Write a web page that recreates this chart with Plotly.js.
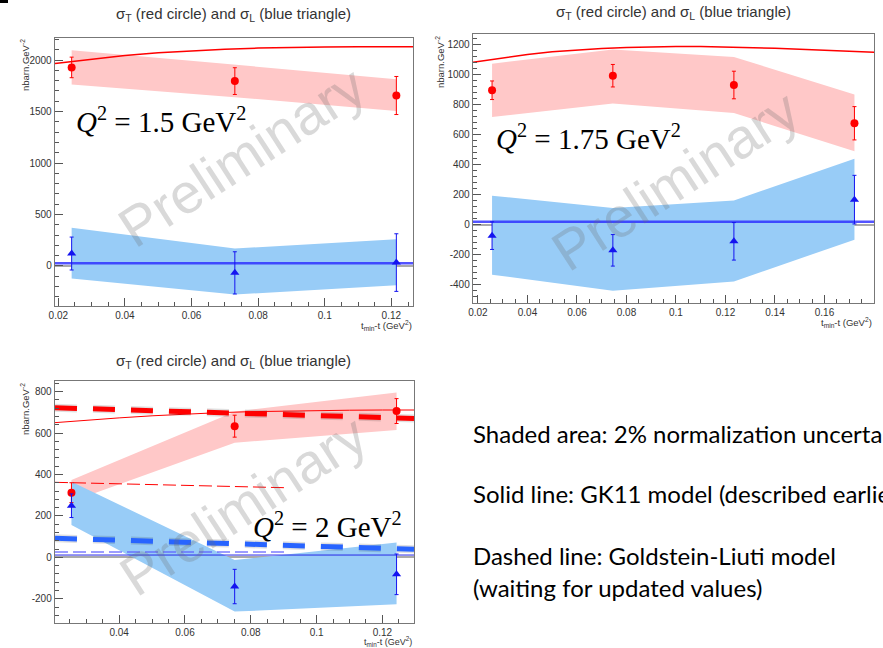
<!DOCTYPE html>
<html>
<head>
<meta charset="utf-8">
<script src="https://cdn.plot.ly/plotly-3.0.1.min.js"></script>
<style>html,body{margin:0;padding:0;background:#fff;overflow:hidden}#chart{width:883px;height:648px}</style>
</head>
<body>
<div id="chart"></div>
<script>
// ---------- Panel 1 : Q2 = 1.5 GeV2 ----------
const t15 = [0.024, 0.073, 0.1215];
const sigT15 = [1929, 1796, 1656];
const sigT15Err = [100, 130, 185];
const sigL15 = [120, -68, 32];
const sigL15Err = [160, 205, 280];
const bandT15Hi = [2097, 1953, 1815];
const bandT15Lo = [1763, 1640, 1506];
const bandL15Hi = [370, 169, 260];
const bandL15Lo = [-123, -279, -188];
const gk15x = [0.019, 0.03, 0.04, 0.05, 0.06, 0.07, 0.08, 0.09, 0.1, 0.11, 0.12, 0.1265];
const gkT15 = [1968, 2010, 2045, 2072, 2092, 2106, 2117, 2124, 2128, 2130, 2131, 2131];
const gkL15 = [25, 25, 25, 25, 25, 25, 25, 25, 25, 25, 25, 25];
const y15Ticks = [0, 500, 1000, 1500, 2000];
const y15Text = ["0", "500", "1000", "1500", "2000"];

// ---------- Panel 2 : Q2 = 1.75 GeV2 ----------
const t175 = [0.0257, 0.0745, 0.1234, 0.1721];
const sigT175 = [896, 993, 931, 676];
const sigT175Err = [62, 75, 92, 111];
const sigL175 = [-73, -171, -111, 167];
const sigL175Err = [92, 105, 125, 162];
const bandT175Hi = [1073, 1167, 1118, 867];
const bandT175Lo = [718, 807, 744, 489];
const bandL175Hi = [193, 111, 162, 440];
const bandL175Lo = [-333, -440, -378, -100];
const gk175x = [0.018, 0.03, 0.04, 0.05, 0.06, 0.07, 0.08, 0.09, 0.1, 0.11, 0.12, 0.13, 0.14, 0.15, 0.16, 0.17, 0.18];
const gkT175 = [1082, 1112, 1135, 1152, 1165, 1175, 1181, 1185, 1187, 1187, 1185, 1181, 1176, 1169, 1162, 1155, 1150];
const gkL175 = [20, 20, 20, 20, 20, 20, 20, 20, 20, 20, 20, 20, 20, 20, 20, 20, 20];
const y175Ticks = [-400, -200, 0, 200, 400, 600, 800, 1000, 1200];
const y175Text = ["-400", "-200", "0", "200", "400", "600", "800", "1000", "1200"];

// ---------- Panel 3 : Q2 = 2 GeV2 ----------
const t2 = [0.0255, 0.0751, 0.1243];
const sigT2 = [312, 633, 706];
const sigT2Err = [48, 53, 60];
const sigL2 = [249, -141, -82];
const sigL2Err = [57, 83, 98];
const bandT2Hi = [373, 703, 796];
const bandT2Lo = [270, 553, 614];
const bandL2Hi = [365, -13, 71];
const bandL2Lo = [156, -262, -227];
const gk2x = [0.0205, 0.03, 0.04, 0.05, 0.06, 0.07, 0.08, 0.09, 0.1, 0.11, 0.12, 0.1296];
const gkT2 = [650, 662, 673, 683, 691, 698, 703, 706, 708, 710, 711, 711];
const gkL2 = [11, 11, 11, 11, 11, 11, 11, 11, 11, 11, 11, 11];
const gl2x = [0.0205, 0.1296];
const glT2 = [722, 670];
const glL2 = [92, 39];
const glOld2x = [0.0205, 0.0903];
const glOldT2 = [362, 336];
const glOldL2 = [26, 26];
const y2Ticks = [-200, 0, 200, 400, 600, 800];
const y2Text = ["-200", "0", "200", "400", "600", "800"];

const titleText = "σ<sub>T</sub> (red circle) and σ<sub>L</sub> (blue triangle)";
const yLabel = "nbarn.GeV<sup>-2</sup>";
const xLabel = "t<sub>min</sub>-t (GeV<sup>2</sup>)";
const qLabels = ["<i>Q</i><sup>2</sup> = 1.5 GeV<sup>2</sup>", "<i>Q</i><sup>2</sup> = 1.75 GeV<sup>2</sup>", "<i>Q</i><sup>2</sup> = 2 GeV<sup>2</sup>"];
const watermark = "Preliminary";
const notes = ["Shaded area: 2% normalization uncertainty", "Solid line: GK11 model (described earlier)", "Dashed line: Goldstein-Liuti model", "(waiting for updated values)"];

// ---------- helpers ----------
const W = 883, H = 648;
const fx = p => p / W;
const fy = p => 1 - p / H;
const PINK = "rgb(255,200,200)";
const LBLUE = "rgb(152,204,247)";
const RED = "rgb(255,0,0)";
const BLUE = "rgb(20,20,240)";

function band(x, hi, lo, color, ax) {
  return {x: x.concat(x.slice().reverse()), y: hi.concat(lo.slice().reverse()),
    xaxis: "x" + ax, yaxis: "y" + ax, type: "scatter", mode: "lines", fill: "toself",
    fillcolor: color, line: {width: 0, color: color}, hoverinfo: "skip"};
}
function line(x, y, color, width, dash, ax) {
  return {x: x, y: y, xaxis: "x" + ax, yaxis: "y" + ax, type: "scatter", mode: "lines",
    line: {color: color, width: width, dash: dash || "solid"}, hoverinfo: "skip"};
}
function pts(x, y, err, color, sym, size, ax) {
  return {x: x, y: y, xaxis: "x" + ax, yaxis: "y" + ax, type: "scatter", mode: "markers",
    marker: {color: color, symbol: sym, size: size},
    error_y: {type: "data", array: err, visible: true, color: color, thickness: 1, width: 2}};
}

const traces = [
  // panel 1
  band(t15, bandT15Hi, bandT15Lo, PINK, ""),
  band(t15, bandL15Hi, bandL15Lo, LBLUE, ""),
  line(gk15x, gkT15, RED, 1.5, null, ""),
  line(gk15x, gkL15, "rgba(40,40,255,0.8)", 2.5, null, ""),
  pts(t15, sigT15, sigT15Err, RED, "circle", 8, ""),
  pts(t15, sigL15, sigL15Err, BLUE, "triangle-up", 8, ""),
  // panel 2
  band(t175, bandT175Hi, bandT175Lo, PINK, "2"),
  band(t175, bandL175Hi, bandL175Lo, LBLUE, "2"),
  line(gk175x, gkT175, RED, 1.5, null, "2"),
  line(gk175x, gkL175, "rgba(40,40,255,0.8)", 2.5, null, "2"),
  pts(t175, sigT175, sigT175Err, RED, "circle", 8, "2"),
  pts(t175, sigL175, sigL175Err, BLUE, "triangle-up", 8, "2"),
  // panel 3
  band(t2, bandT2Hi, bandT2Lo, PINK, "3"),
  band(t2, bandL2Hi, bandL2Lo, LBLUE, "3"),
  line(gk2x, gkT2, RED, 1, null, "3"),
  line(gk2x, gkL2, "rgb(40,40,230)", 1, null, "3"),
  line(glOld2x, glOldT2, RED, 1, "13px,5px", "3"),
  line(glOld2x, glOldL2, "rgba(90,90,255,0.8)", 1.5, "13px,5px", "3"),
  line(gl2x, glT2, "rgba(0,0,0,0.12)", 8, "22px,16px", "3"),
  line(gl2x, glL2, "rgba(0,0,0,0.12)", 8, "22px,16px", "3"),
  line(gl2x, glT2, "rgb(255,0,0)", 5, "22px,16px", "3"),
  line(gl2x, glL2, "rgb(40,100,255)", 5, "22px,16px", "3"),
  pts(t2, sigT2, sigT2Err, RED, "circle", 8, "3"),
  pts(t2, sigL2, sigL2Err, BLUE, "triangle-up", 8, "3")
];

const tickFont = {family: "Liberation Sans, Arial, sans-serif", size: 10, color: "#333"};
function xax(l, r, range, anchor) {
  return {domain: [fx(l), fx(r)], range: range, anchor: anchor, tickmode: "linear", tick0: 0.02, dtick: 0.02,
    ticks: "inside", ticklen: 8, tickwidth: 1, tickcolor: "#555", showline: true, mirror: true,
    linecolor: "#777", linewidth: 1.3, showgrid: false, zeroline: false, tickfont: tickFont,
    minor: {tickmode: "linear", tick0: 0, dtick: 0.005, ticks: "inside", ticklen: 4, tickcolor: "#555", tickwidth: 1, showgrid: false}};
}
function yax(t, b, range, anchor, tv, tt, minorD) {
  return {domain: [fy(b), fy(t)], range: range, anchor: anchor, tickmode: "array", tickvals: tv, ticktext: tt,
    ticks: "inside", ticklen: 8, tickwidth: 1, tickcolor: "#555", showline: true, mirror: true,
    linecolor: "#777", linewidth: 1.3, showgrid: false, zeroline: true, zerolinecolor: "#aaa", zerolinewidth: 2,
    tickfont: tickFont,
    minor: {tickmode: "linear", tick0: 0, dtick: minorD, ticks: "inside", ticklen: 4, tickcolor: "#555", tickwidth: 1, showgrid: false}};
}

function ann(text, x, y, opts) {
  return Object.assign({text: text, x: x, y: y, xref: "paper", yref: "paper", showarrow: false,
    xanchor: "center", yanchor: "middle"}, opts);
}
const titleFont = {family: "Liberation Sans, Arial, sans-serif", size: 15, color: "#333"};
const smallFont = {family: "Liberation Sans, Arial, sans-serif", size: 9.5, color: "#333"};
const smallFont3 = {family: "Liberation Sans, Arial, sans-serif", size: 9, color: "#333"};
const qFont = {family: "Liberation Serif, DejaVu Serif, serif", size: 29, color: "#000"};
const wmFont = {family: "Liberation Sans, Arial, sans-serif", size: 56, color: "rgba(110,110,110,0.26)"};
const noteFont = {family: "Lato, Open Sans, sans-serif", size: 24, color: "#000"};

const annotations = [
  ann(titleText, fx(233), fy(15), {font: titleFont}),
  ann(titleText, fx(673), fy(13), {font: titleFont}),
  ann(titleText, fx(233), fy(361), {font: titleFont}),
  ann(yLabel, fx(25), fy(37), {textangle: -90, yanchor: "top", font: smallFont}),
  ann(yLabel, fx(440), fy(34), {textangle: -90, yanchor: "top", font: smallFont}),
  ann(yLabel, fx(25), fy(381), {textangle: -90, yanchor: "top", font: smallFont}),
  ann(xLabel, fx(414), fy(325), {xanchor: "right", font: smallFont}),
  ann(xLabel, fx(874), fy(322), {xanchor: "right", font: smallFont}),
  ann(xLabel, fx(414), fy(641.5), {xanchor: "right", font: smallFont3}),
  ann(qLabels[0], fx(74), fy(120), {xanchor: "left", font: qFont}),
  ann(qLabels[1], fx(494), fy(137), {xanchor: "left", font: qFont}),
  ann(qLabels[2], fx(251), fy(525), {xanchor: "left", font: qFont}),
  ann(watermark, fx(242), fy(157), {textangle: -33, font: wmFont}),
  ann(watermark, fx(675), fy(180), {textangle: -33, font: wmFont}),
  ann(watermark, fx(243), fy(505), {textangle: -33, font: wmFont}),
  ann(notes[0], fx(471), fy(433), {xanchor: "left", font: noteFont}),
  ann(notes[1], fx(471), fy(493), {xanchor: "left", font: noteFont}),
  ann(notes[2], fx(471), fy(555), {xanchor: "left", font: noteFont}),
  ann(notes[3], fx(471), fy(587), {xanchor: "left", font: noteFont})
];

const layout = {
  width: W, height: H, margin: {l: 0, r: 0, t: 0, b: 0}, showlegend: false,
  paper_bgcolor: "#fff", plot_bgcolor: "#fff",
  xaxis: xax(55, 413, [0.019, 0.1265], "y"),
  yaxis: yax(38, 306, [-390, 2215], "x", y15Ticks, y15Text, 100),
  xaxis2: xax(473, 874, [0.018, 0.18], "y2"),
  yaxis2: yax(34, 303, [-522, 1271], "x2", y175Ticks, y175Text, 40),
  xaxis3: xax(55, 414, [0.0205, 0.1296], "y3"),
  yaxis3: yax(381, 623, [-317, 851], "x3", y2Ticks, y2Text, 40),
  annotations: annotations,
  shapes: [{type: "rect", xref: "paper", yref: "paper", x0: 0, x1: fx(8), y0: fy(3), y1: 1, fillcolor: "#000", line: {width: 0}}]
};

Plotly.newPlot("chart", traces, layout, {displayModeBar: false, staticPlot: true});
</script>
</body>
</html>
